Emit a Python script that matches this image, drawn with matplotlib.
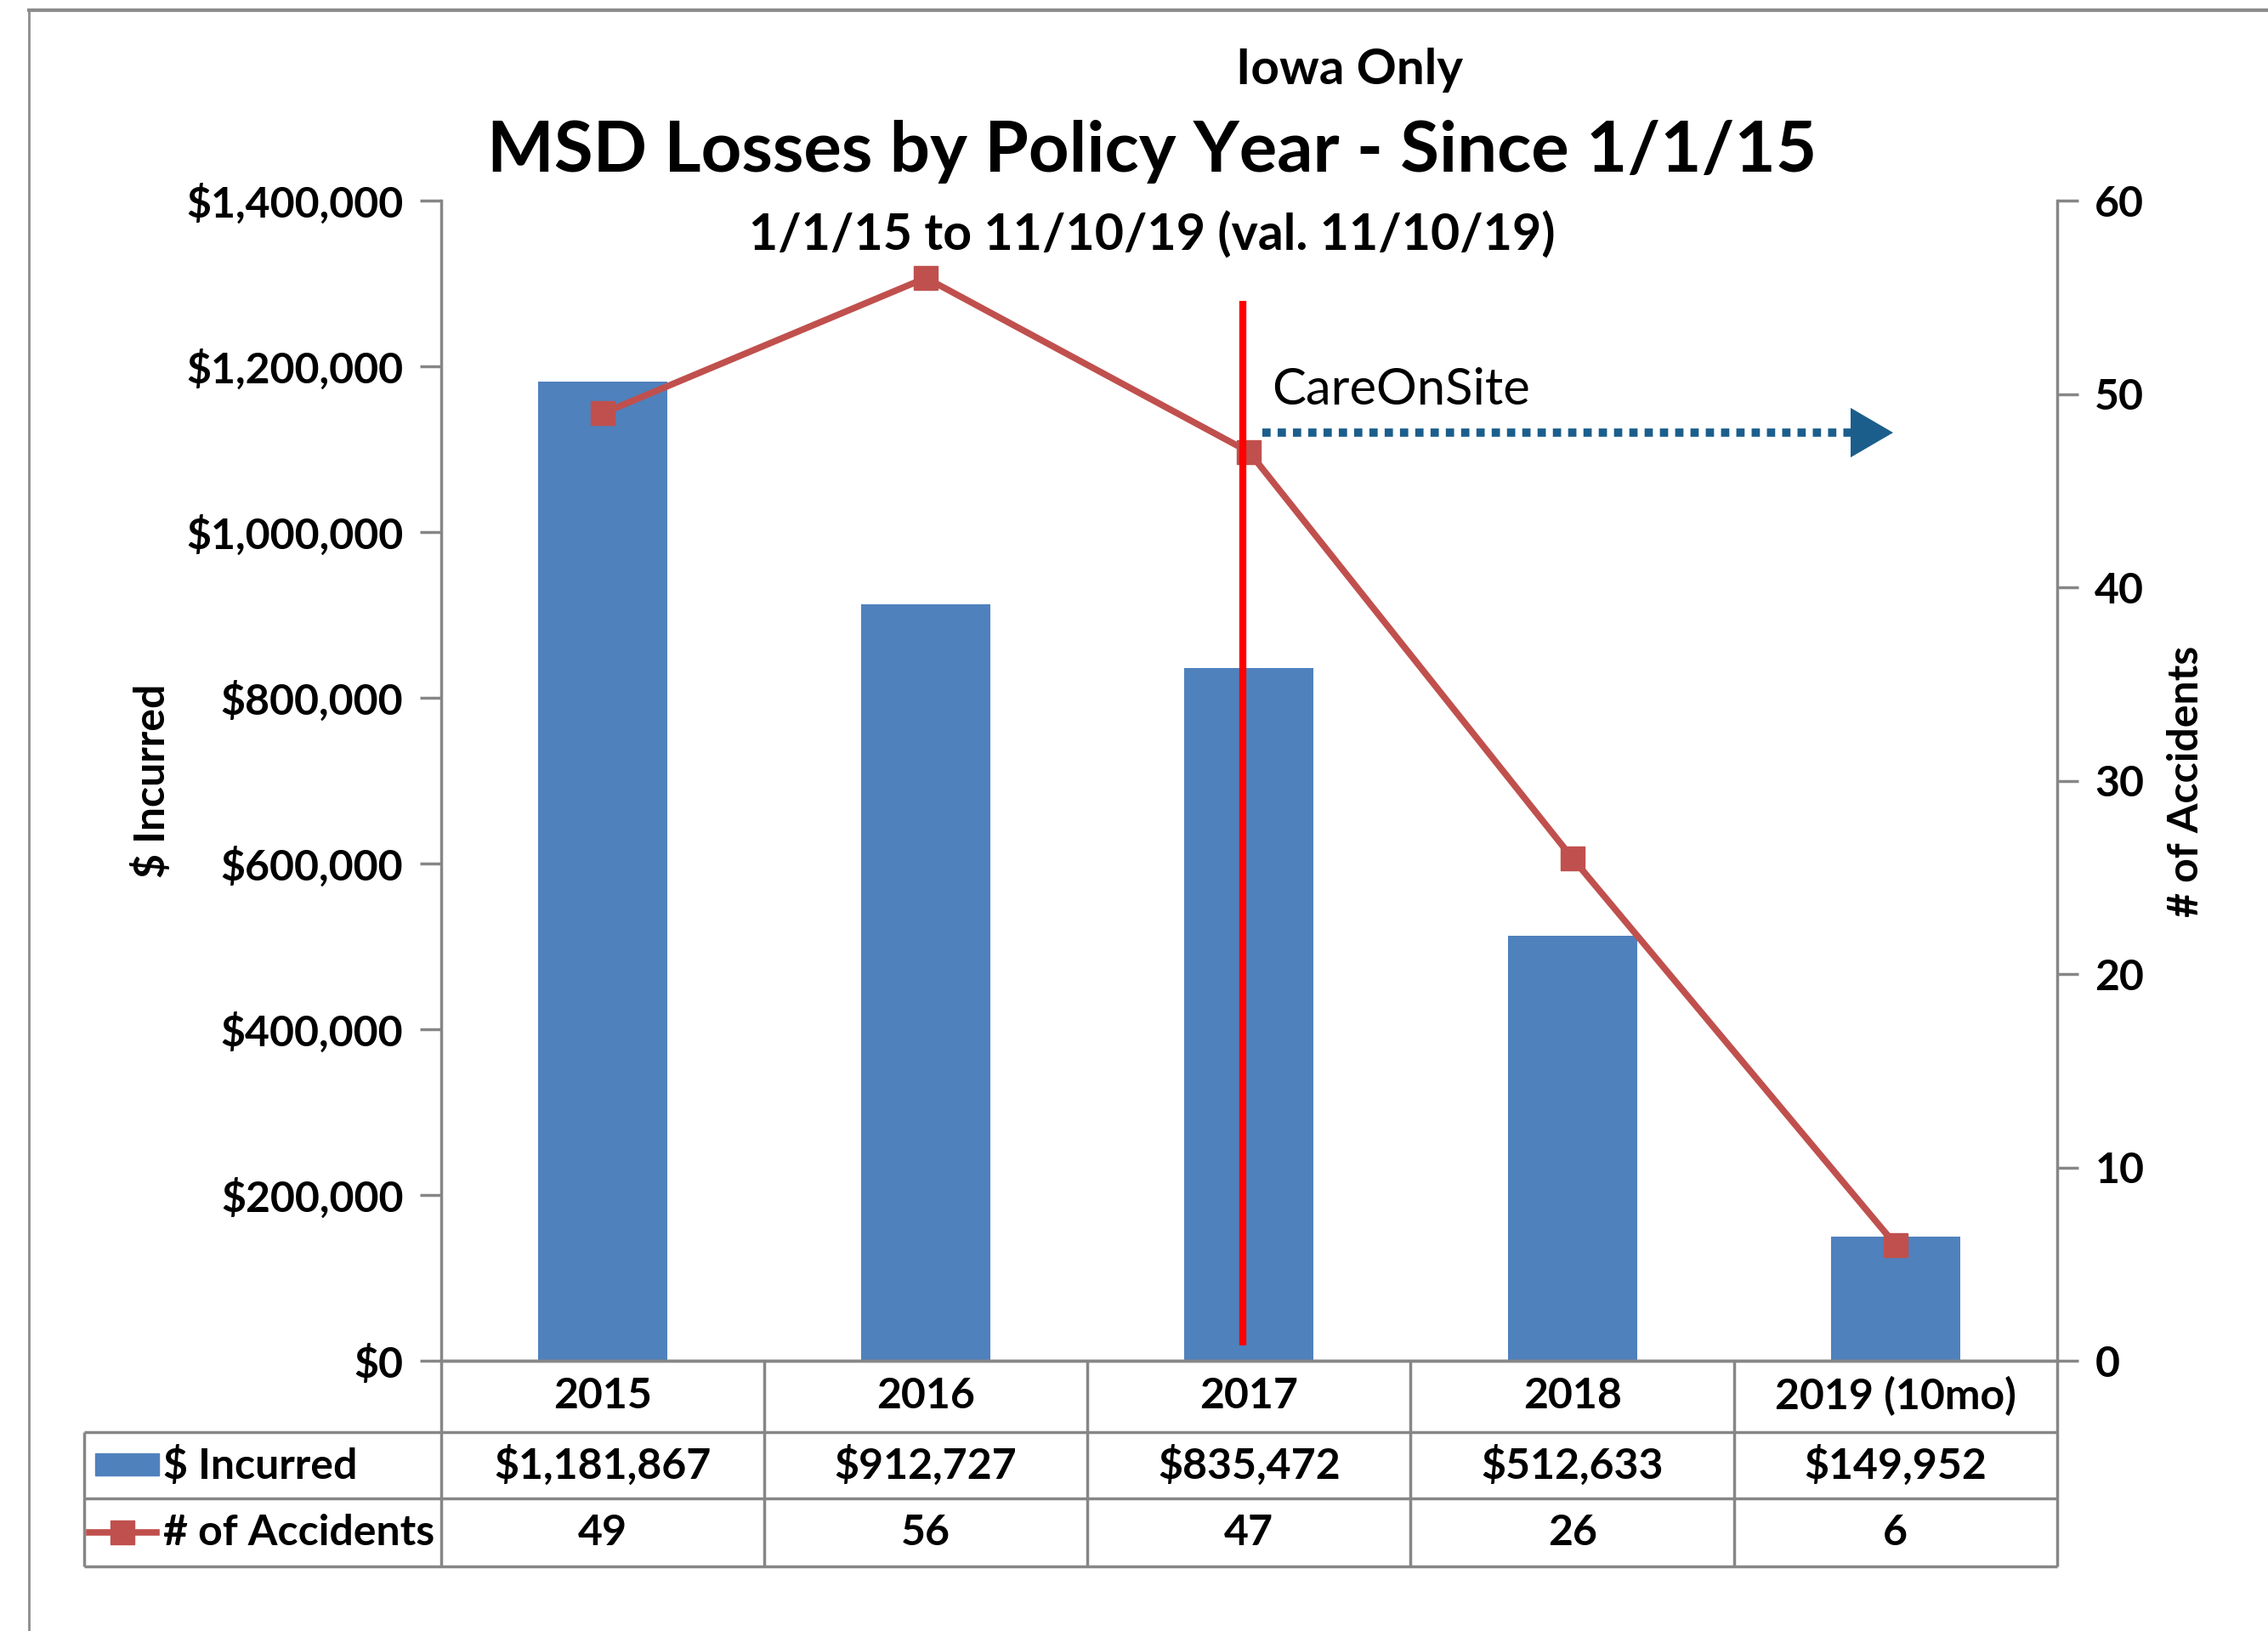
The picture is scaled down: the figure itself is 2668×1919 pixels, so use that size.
import matplotlib
matplotlib.use('Agg')
import matplotlib.pyplot as plt
from matplotlib.lines import Line2D
from matplotlib.patches import Rectangle
from matplotlib.ticker import FuncFormatter, MultipleLocator

plt.rcParams['font.family'] = ['Lato', 'DejaVu Sans']
plt.rcParams['font.weight'] = 'bold'

# data
years = ['2015', '2016', '2017', '2018', '2019 (10mo)']
incurred = [1181867, 912727, 835472, 512633, 149952]
accidents = [49, 56, 47, 26, 6]

# annotation (CareOnSite start, in right-axis units)
cos_x = 1.98
cos_y_range = (0.8, 54.8)
arrow_x = (2.04, 3.95)
arrow_y = 48

BLUE = '#4F81BD'
RED_LINE = '#C0504D'
GRAY = '#868686'
ARROW = '#1B5E8C'
FS = 36

fig = plt.figure(figsize=(26.68, 19.19), dpi=100)
ax = fig.add_axes([0.1945, 0.1657, 0.907 - 0.1945, 0.877 - 0.1657])
ax2 = ax.twinx()

x = list(range(len(years)))
ax.bar(x, incurred, width=0.4, color=BLUE, zorder=2)
ax.set_xlim(-0.5, len(years) - 0.5)
ax.set_ylim(0, 1400000)
ax.yaxis.set_major_locator(MultipleLocator(200000))
ax.yaxis.set_major_formatter(FuncFormatter(lambda v, p: f'${v:,.0f}'))
ax.set_xticks([])

ax2.plot(x, accidents, color=RED_LINE, lw=5.5, marker='s', markersize=20,
         markerfacecolor=RED_LINE, markeredgecolor=RED_LINE, zorder=3)
ax2.set_ylim(0, 60)
ax2.yaxis.set_major_locator(MultipleLocator(10))

for a in (ax, ax2):
    a.spines['top'].set_visible(False)
    for s in ('left', 'right', 'bottom'):
        a.spines[s].set_color(GRAY)
        a.spines[s].set_linewidth(2.5)
    a.tick_params(axis='y', colors=GRAY, length=18, width=2.5, labelsize=FS,
                  labelcolor='black', pad=14)
ax.spines['right'].set_visible(False)
ax2.spines['left'].set_visible(False)
ax.patch.set_visible(False)

# CareOnSite marker line + arrow
ax2.plot([cos_x, cos_x], cos_y_range, color='#FF0000', lw=6, zorder=5,
         solid_capstyle='butt')
ax2.plot([arrow_x[0], arrow_x[1] - 0.05], [arrow_y, arrow_y], color=ARROW, lw=7,
         linestyle=(0, (1.0, 0.85)), dash_capstyle='butt', zorder=5)
ax2.annotate('', xy=(arrow_x[1] + 0.05, arrow_y), xytext=(arrow_x[1] - 0.06, arrow_y),
             arrowprops=dict(arrowstyle='-|>,head_length=1.2,head_width=0.7',
                             color=ARROW, lw=0, mutation_scale=30), zorder=5)
ax2.text(arrow_x[0] + 0.03, arrow_y + 2.2, 'CareOnSite', fontsize=43,
         fontweight='normal', ha='left', va='center', zorder=6)

# data table under the axis
tx = ax.get_xaxis_transform()
ta = ax.transAxes
row_b = [0.0, -0.0615, -0.1187, -0.1773]
tbl_left = -0.221
lk = dict(color=GRAY, lw=2.5, clip_on=False, solid_capstyle='butt')
for b in range(len(years) + 1):
    ax.plot([b - 0.5, b - 0.5], [row_b[0], row_b[3]], transform=tx, **lk)
for yb in row_b[1:]:
    ax.plot([tbl_left, 1.0], [yb, yb], transform=ta, **lk)
ax.plot([tbl_left, tbl_left], [row_b[1], row_b[3]], transform=ta, **lk)

centers = [(row_b[i] + row_b[i + 1]) / 2 for i in range(3)]
for i, yr in enumerate(years):
    ax.text(i, centers[0], yr, transform=tx, ha='center', va='center', fontsize=FS)
    ax.text(i, centers[1], f'${incurred[i]:,}', transform=tx, ha='center',
            va='center', fontsize=FS)
    ax.text(i, centers[2], f'{accidents[i]}', transform=tx, ha='center',
            va='center', fontsize=FS)

# legend keys in table
ax.add_patch(Rectangle((-0.214, -0.0989), 0.0394, 0.019, transform=ta,
                       color=BLUE, clip_on=False))
ax.text(-0.172, centers[1], '$ Incurred', transform=ta, ha='left', va='center',
        fontsize=FS)
ax.add_line(Line2D([-0.2175, -0.176], [centers[2], centers[2]], transform=ta,
                   color=RED_LINE, lw=5.5, clip_on=False))
ax.add_line(Line2D([-0.197], [centers[2]], transform=ta, color=RED_LINE,
                   marker='s', markersize=20, clip_on=False))
ax.text(-0.172, centers[2], '# of Accidents', transform=ta, ha='left',
        va='center', fontsize=FS)

# titles and axis labels
fig.text(0.595, 0.957, 'Iowa Only', ha='center', va='center', fontsize=42)
fig.text(0.508, 0.907, 'MSD Losses by Policy Year - Since 1/1/15', ha='center',
         va='center', fontsize=60)
fig.text(0.508, 0.856, '1/1/15 to 11/10/19 (val. 11/10/19)', ha='center',
         va='center', fontsize=42.5)
fig.text(0.067, 0.521, '$ Incurred', rotation=90, ha='center', va='center',
         fontsize=FS)
fig.text(0.964, 0.521, '# of Accidents', rotation=90, ha='center', va='center',
         fontsize=FS)

# outer frame (top and left edges)
fig.add_artist(Line2D([0.0127, 1.0], [0.9937, 0.9937], color='#8C8C8C', lw=3))
fig.add_artist(Line2D([0.0127, 0.0127], [0.0, 0.9937], color='#8C8C8C', lw=2))

fig.savefig('out.png', dpi=100)
